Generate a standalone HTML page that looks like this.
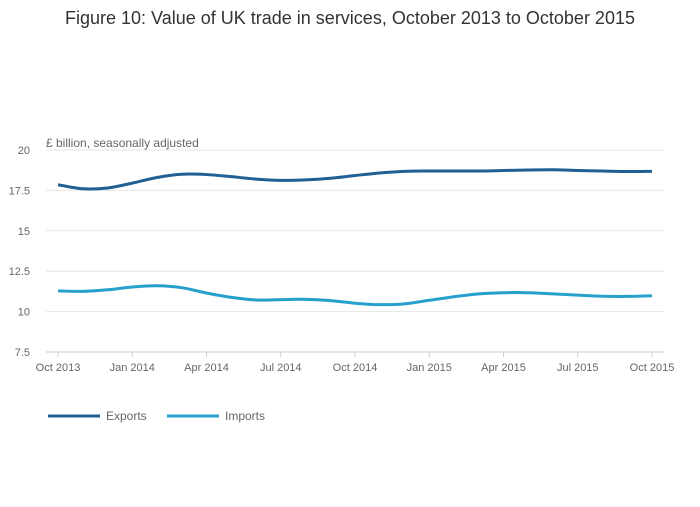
<!DOCTYPE html>
<html><head><meta charset="utf-8"><style>
body{margin:0;background:#fff;font-family:"Liberation Sans","DejaVu Sans",sans-serif;}
svg text{font-family:"Liberation Sans","DejaVu Sans",sans-serif;}
</style></head><body>
<svg id="chart" width="700" height="502">
<text x="350" y="24" text-anchor="middle" font-size="18" fill="#333">Figure 10: Value of UK trade in services, October 2013 to October 2015</text>
<text x="46" y="147" font-size="12" fill="#666">£ billion, seasonally adjusted</text>
<g id="grid"></g><g id="series"></g><g id="legend"></g>
</svg>
<script>
const categories=["Oct 2013","Nov 2013","Dec 2013","Jan 2014","Feb 2014","Mar 2014","Apr 2014","May 2014","Jun 2014","Jul 2014","Aug 2014","Sep 2014","Oct 2014","Nov 2014","Dec 2014","Jan 2015","Feb 2015","Mar 2015","Apr 2015","May 2015","Jun 2015","Jul 2015","Aug 2015","Sep 2015","Oct 2015"];
const exportsData=[17.85,17.6,17.65,17.95,18.3,18.5,18.48,18.35,18.2,18.12,18.15,18.25,18.42,18.58,18.68,18.7,18.7,18.7,18.73,18.76,18.78,18.73,18.7,18.67,18.68];
const importsData=[11.28,11.25,11.35,11.52,11.6,11.48,11.15,10.88,10.72,10.74,10.76,10.68,10.52,10.43,10.48,10.7,10.92,11.1,11.17,11.17,11.1,11.02,10.95,10.94,10.98];
const yTicks=[7.5,10,12.5,15,17.5,20];
const yTickLabels=["7.5","10","12.5","15","17.5","20"];
const xTickIdx=[0,3,6,9,12,15,18,21,24];
const xTickLabels=["Oct 2013","Jan 2014","Apr 2014","Jul 2014","Oct 2014","Jan 2015","Apr 2015","Jul 2015","Oct 2015"];
const NS="http://www.w3.org/2000/svg";
const X=i=>58+i*(652-58)/(categories.length-1);
const Y=v=>352-(v-7.5)*(352-150)/12.5;
function mk(t,a,p){const e=document.createElementNS(NS,t);for(const k in a)e.setAttribute(k,a[k]);p.appendChild(e);return e;}
const grid=document.getElementById('grid');
yTicks.forEach((v,i)=>{
 const l=mk('line',{x1:46,x2:664,y1:Y(v),y2:Y(v),stroke:i==0?'#ccc':'#e6e6e6','stroke-width':1},grid);
 
 
 const t=mk('text',{x:30,y:Y(v)+4,'text-anchor':'end','font-size':11,fill:'#666'},grid);t.textContent=yTickLabels[i];
 
 
});
xTickIdx.forEach((idx,i)=>{
 const l=mk('line',{x1:X(idx),x2:X(idx),y1:352,y2:357,stroke:'#ccc'},grid);
 
 
 const t=mk('text',{x:X(idx),y:371,'text-anchor':'middle','font-size':11,fill:'#666'},grid);t.textContent=xTickLabels[i];
 
 
});
function path(data){
 const p=data.map((v,i)=>[X(i),Y(v)]);let d=`M${p[0][0]},${p[0][1]}`;
 for(let i=0;i<p.length-1;i++){const p0=p[Math.max(0,i-1)],p1=p[i],p2=p[i+1],p3=p[Math.min(p.length-1,i+2)];
  d+=` C${p1[0]+(p2[0]-p0[0])/6},${p1[1]+(p2[1]-p0[1])/6} ${p2[0]-(p3[0]-p1[0])/6},${p2[1]-(p3[1]-p1[1])/6} ${p2[0]},${p2[1]}`;}
 return d;
}
const s=document.getElementById('series');
const e1=mk('path',{d:path(exportsData),fill:'none',stroke:'#206095','stroke-width':3},s);


const e2=mk('path',{d:path(importsData),fill:'none',stroke:'#27a0cc','stroke-width':3},s);


const lg=document.getElementById('legend');
[["Exports","#206095",48],["Imports","#27a0cc",167]].forEach(([n,c,x])=>{
 const g=mk('g',{},lg);
 
 
 mk('line',{x1:x,x2:x+52,y1:416,y2:416,stroke:c,'stroke-width':3},g);
 const t=mk('text',{x:x+58,y:420,'font-size':12,fill:'#666'},g);t.textContent=n;
});
</script>
</body></html>
